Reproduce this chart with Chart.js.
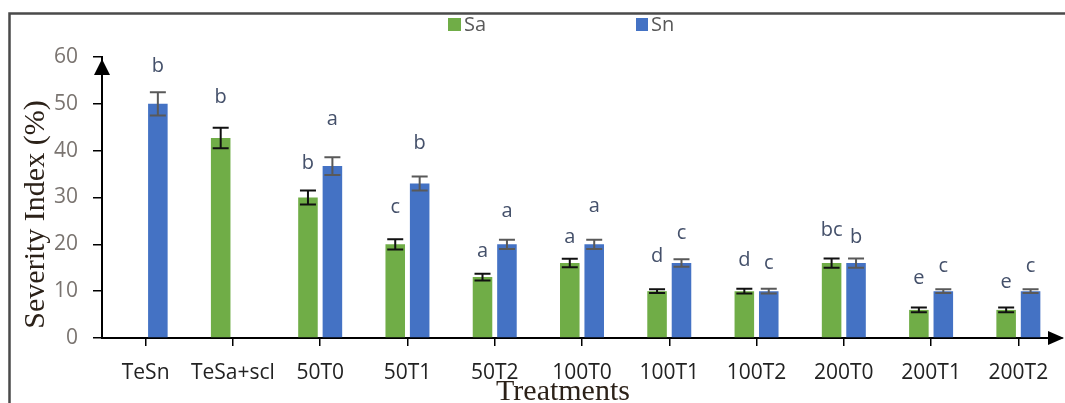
<!DOCTYPE html>
<html>
<head>
<meta charset="utf-8">
<script src="https://cdn.jsdelivr.net/npm/chart.js@4"></script>
<style>
  body { margin: 0; background: #fff; }
  #wrap { width: 1065px; height: 403px; position: relative; }
</style>
</head>
<body>
<div id="wrap"><canvas id="severityChart"></canvas></div>
<script>
const treatments = ["TeSn", "TeSa+scl", "50T0", "50T1", "50T2", "100T0", "100T1", "100T2", "200T0", "200T1", "200T2"];
const saValues = [null, 42.7, 30, 20, 13, 16, 10, 10, 16, 6, 6];
const snValues = [50, null, 36.7, 33, 20, 20, 16, 10, 16, 10, 10];
const saErrors = [null, 2.2, 1.5, 1.1, 0.7, 0.9, 0.4, 0.5, 1, 0.5, 0.5];
const snErrors = [2.5, null, 1.9, 1.5, 1, 1, 0.8, 0.5, 1, 0.4, 0.4];
// significance letters and the value at which each one sits
const saLetters = ["", "b", "b", "c", "a", "a", "d", "d", "bc", "e", "e"];
const snLetters = ["b", "", "a", "b", "a", "a", "c", "c", "b", "c", "c"];
const saLetterAt = [null, 50.2, 36.1, 26.7, 17.3, 20.3, 16.2, 15.4, 21.8, 11.5, 10.7];
const snLetterAt = [56.8, null, 45.5, 40.4, 25.8, 26.9, 21.1, 14.7, 20.3, 14.1, 14.1];
const yTicks = [0, 10, 20, 30, 40, 50, 60];

const GREEN = "#70AD47";
const BLUE = "#4472C4";

// frame, arrows, titles, legend, error bars and letters
const decorations = {
  id: "decorations",
  beforeDraw(chart) {
    const ctx = chart.ctx;
    ctx.save();
    ctx.strokeStyle = "#4a4a4a";
    ctx.lineWidth = 2.5;
    ctx.beginPath();
    ctx.moveTo(9.5, 420);
    ctx.lineTo(9.5, 13.5);
    ctx.lineTo(1080, 13.5);
    ctx.stroke();
    ctx.restore();
  },
  afterDatasetsDraw(chart) {
    const ctx = chart.ctx;
    const y = chart.scales.y;
    const sets = [
      { errs: saErrors, color: "#111", letters: saLetters, at: saLetterAt },
      { errs: snErrors, color: "#595959", letters: snLetters, at: snLetterAt }
    ];
    ctx.save();
    sets.forEach((s, i) => {
      const meta = chart.getDatasetMeta(i);
      const vals = chart.data.datasets[i].data;
      meta.data.forEach((bar, j) => {
        if (vals[j] == null) return;
        const top = y.getPixelForValue(vals[j] + s.errs[j]);
        const bot = y.getPixelForValue(vals[j] - s.errs[j]);
        ctx.strokeStyle = s.color;
        ctx.lineWidth = 2;
        ctx.beginPath();
        ctx.moveTo(bar.x, top); ctx.lineTo(bar.x, bot);
        ctx.moveTo(bar.x - 8, top); ctx.lineTo(bar.x + 8, top);
        ctx.moveTo(bar.x - 8, bot); ctx.lineTo(bar.x + 8, bot);
        ctx.stroke();
        if (s.letters[j]) {
          ctx.fillStyle = "#44506a";
          ctx.font = "20px 'Open Sans'";
          ctx.textAlign = "center";
          ctx.textBaseline = "alphabetic";
          ctx.fillText(s.letters[j], bar.x, y.getPixelForValue(s.at[j]));
        }
      });
    });
    ctx.restore();
  },
  afterDraw(chart) {
    const ctx = chart.ctx;
    const a = chart.chartArea;
    ctx.save();
    ctx.fillStyle = "#000";
    // y arrow
    ctx.beginPath();
    ctx.moveTo(a.left, a.top + 2);
    ctx.lineTo(a.left - 8, a.top + 18);
    ctx.lineTo(a.left + 8, a.top + 18);
    ctx.closePath();
    ctx.fill();
    // x arrow
    ctx.beginPath();
    ctx.moveTo(a.right + 2, a.bottom);
    ctx.lineTo(a.right - 14, a.bottom - 7);
    ctx.lineTo(a.right - 14, a.bottom + 7);
    ctx.closePath();
    ctx.fill();

    // axis titles
    ctx.fillStyle = "#2b2118";
    ctx.font = "30px 'Liberation Serif'";
    ctx.textAlign = "center";
    ctx.textBaseline = "middle";
    ctx.save();
    ctx.translate(a.left - 66, (a.top + a.bottom) / 2 + 17);
    ctx.rotate(-Math.PI / 2);
    ctx.fillText("Severity Index (%)", 0, 0);
    ctx.restore();
    ctx.textBaseline = "alphabetic";
    ctx.fillText("Treatments", a.left + 461, a.bottom + 62);

    // legend
    ctx.font = "20px 'Open Sans'";
    ctx.textAlign = "left";
    const items = [{ x: 448, w: 13 }, { x: 636, w: 12 }];
    chart.data.datasets.forEach((ds, i) => {
      const it = items[i];
      ctx.fillStyle = ds.backgroundColor;
      ctx.fillRect(it.x, 18, it.w, 13);
      ctx.fillStyle = "#595959";
      ctx.fillText(ds.label, it.x + it.w + 3, 31);
    });
    ctx.restore();
  }
};

new Chart(document.getElementById("severityChart"), {
  type: "bar",
  data: {
    labels: treatments,
    datasets: [
      { label: "Sa", data: saValues, backgroundColor: GREEN, categoryPercentage: 0.56, barPercentage: 0.8 },
      { label: "Sn", data: snValues, backgroundColor: BLUE, categoryPercentage: 0.56, barPercentage: 0.8 }
    ]
  },
  options: {
    responsive: true,
    maintainAspectRatio: false,
    animation: false,
    layout: { padding: { top: 57, right: 3, left: 0, bottom: 0 } },
    plugins: { legend: { display: false }, tooltip: { enabled: false } },
    scales: {
      x: {
        afterFit: s => { s.height = 65; },
        grid: { offset: false, drawOnChartArea: false, tickLength: 8, color: "#000", lineWidth: 1.5 },
        border: { display: true, color: "#000", width: 2 },
        ticks: { color: "#222", font: { family: "Open Sans", size: 21 }, padding: 14, maxRotation: 0, autoSkip: false }
      },
      y: {
        min: 0,
        max: 60,
        afterFit: s => { s.width = 102; },
        afterBuildTicks: s => { s.ticks = yTicks.map(v => ({ value: v })); },
        grid: { drawOnChartArea: false, tickLength: 9, color: "#000", lineWidth: 1.5 },
        border: { display: true, color: "#000", width: 2 },
        ticks: { color: "#7a7470", font: { family: "Open Sans", size: 21 }, padding: 15 }
      }
    }
  },
  plugins: [decorations]
});
</script>
</body>
</html>
